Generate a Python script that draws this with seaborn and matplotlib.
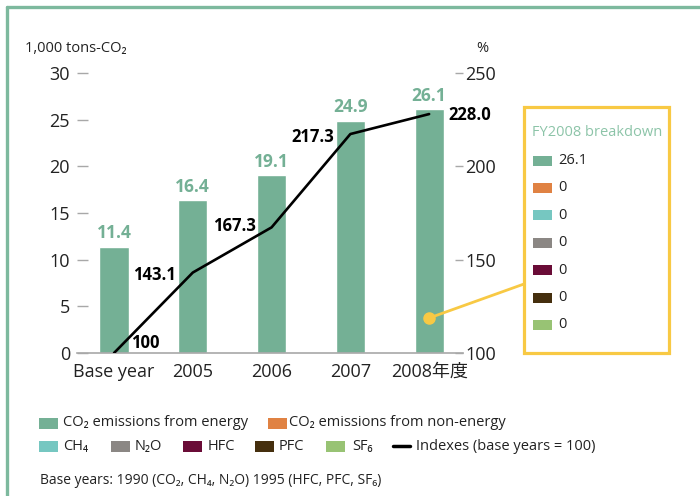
import matplotlib
matplotlib.use("Agg")

import matplotlib.pyplot as plt
import numpy as np
import pandas as pd
import seaborn as sns
from matplotlib.lines import Line2D
from matplotlib.patches import Rectangle

# data
years = ["Base year", "2005", "2006", "2007", "2008年度"]
co2_energy = [11.4, 16.4, 19.1, 24.9, 26.1]
index_values = [100, 143.1, 167.3, 217.3, 228.0]
index_labels = ["100", "143.1", "167.3", "217.3", "228.0"]
breakdown_values = ["26.1", "0", "0", "0", "0", "0", "0"]
gas_labels = ["CO₂ emissions from energy", "CO₂ emissions from non-energy",
              "CH₄", "N₂O", "HFC", "PFC", "SF₆"]
gas_colors = ["#74b095", "#e08243", "#76c7c1", "#8b8784",
              "#6a0c37", "#452f0e", "#98c374"]

W, H = 700, 496
GREEN = gas_colors[0]
YELLOW = "#f8c944"
FRAME = "#7db99e"
GRID_GREY = "#a8a8a8"


def fx(px):
    return px / W


def fy(py):
    return 1 - py / H


sns.set_theme(style="white")
plt.rcParams["font.family"] = ["Open Sans", "DejaVu Sans", "Noto Sans CJK JP"]
plt.rcParams["text.color"] = "#222222"

fig = plt.figure(figsize=(W / 100, H / 100), dpi=100)
ax = fig.add_axes([fx(77), fy(353), fx(463) - fx(77), fy(73) - fy(353)])

df = pd.DataFrame({"year": years, "co2": co2_energy, "index": index_values})
sns.barplot(data=df, x="year", y="co2", color=GREEN, saturation=1, width=0.37, ax=ax)
ax.set_xlim(-0.47, 4.43)
ax.set_ylim(0, 30)
ax.set_yticks(np.arange(0, 31, 5))
ax.set_xlabel("")
ax.set_ylabel("")
for side in ["left", "top", "right"]:
    ax.spines[side].set_visible(False)
ax.spines["bottom"].set_color(GRID_GREY)
ax.spines["bottom"].set_linewidth(1.2)
ax.tick_params(axis="y", direction="in", length=8, width=1, color=GRID_GREY,
               pad=5, labelsize=13, labelcolor="#222222")
ax.tick_params(axis="x", length=0, pad=7, labelsize=13, labelcolor="#222222")

for i, v in enumerate(co2_energy):
    ax.annotate(f"{v:.1f}", (i, v), xytext=(0, 3), textcoords="offset points",
                ha="center", va="bottom", color=GREEN, fontsize=12.5, fontweight="bold")

ax2 = ax.twinx()
sns.lineplot(x=np.arange(len(years)), y=index_values, color="black", lw=1.9, ax=ax2)
ax2.set_ylim(100, 250)
ax2.set_yticks(np.arange(100, 251, 50))
for side in ["left", "top", "right", "bottom"]:
    ax2.spines[side].set_visible(False)
ax2.tick_params(axis="y", direction="in", length=6, width=1, color=GRID_GREY,
                pad=1.5, labelsize=13, labelcolor="#222222")

label_offsets = [(12, 7, "left"), (-12, -2, "right"), (-11, 1, "right"),
                 (-12, -2, "right"), (14, -1, "left")]
for i, (v, txt) in enumerate(zip(index_values, index_labels)):
    dx, dy, ha = label_offsets[i]
    ax2.annotate(txt, (i, v), xytext=(dx, dy), textcoords="offset points",
                 ha=ha, va="center", color="black", fontsize=12, fontweight="bold")

fig.text(fx(25), fy(49), "1,000 tons-CO₂", fontsize=10.5, va="center", ha="left")
fig.text(fx(482), fy(49), "%", fontsize=10.5, va="center", ha="center")

# outer frame
fig.add_artist(Line2D([fx(6.5), 1], [fy(6.5), fy(6.5)], color=FRAME, lw=2.4))
fig.add_artist(Line2D([fx(6.5), fx(6.5)], [fy(6.5), 0], color=FRAME, lw=2.4))

# FY2008 breakdown box
fig.add_artist(Rectangle((fx(524), fy(353)), fx(669) - fx(524), fy(107) - fy(353),
                         transform=fig.transFigure, fill=False, edgecolor=YELLOW, lw=2.3))
fig.text(fx(532), fy(132), "FY2008 breakdown", color="#8cc4a8", fontsize=10.5,
         va="center", ha="left")
for k, (val, col) in enumerate(zip(breakdown_values, gas_colors)):
    yc = 160.5 + k * 27.4
    fig.add_artist(Rectangle((fx(533), fy(yc + 5)), fx(19), 10 / H,
                             transform=fig.transFigure, color=col, lw=0))
    fig.text(fx(558), fy(yc), val, fontsize=10.5, va="center", ha="left")

# connector from the 2008 bar to the box
ax.plot([4], [3.75], "o", color=YELLOW, ms=8, zorder=5, clip_on=False)
dot = ax.transData.transform((4, 3.75))
dot_fig = fig.transFigure.inverted().transform(dot)
fig.add_artist(Line2D([dot_fig[0], fx(524)], [dot_fig[1], fy(284)], color=YELLOW, lw=2))

# bottom legend
legend_items = [
    (0, 39, 63, 423), (1, 268, 289, 423),
    (2, 39, 63, 446), (3, 111, 135, 446), (4, 183, 208, 446),
    (5, 255, 279, 446), (6, 326, 352, 446),
]
for idx, sq_x, tx_x, yc in legend_items:
    fig.add_artist(Rectangle((fx(sq_x), fy(yc + 5.5)), fx(19), 11 / H,
                             transform=fig.transFigure, color=gas_colors[idx], lw=0))
    fig.text(fx(tx_x), fy(yc), gas_labels[idx], fontsize=10.5, va="center", ha="left")
fig.add_artist(Line2D([fx(393), fx(410)], [fy(446), fy(446)], color="black", lw=2.5))
fig.text(fx(416), fy(446), "Indexes (base years = 100)", fontsize=10.5, va="center", ha="left")

fig.text(fx(40), fy(480), "Base years: 1990 (CO₂, CH₄, N₂O) 1995 (HFC, PFC, SF₆)",
         fontsize=10, va="center", ha="left")

fig.savefig("out.png", dpi=100)
